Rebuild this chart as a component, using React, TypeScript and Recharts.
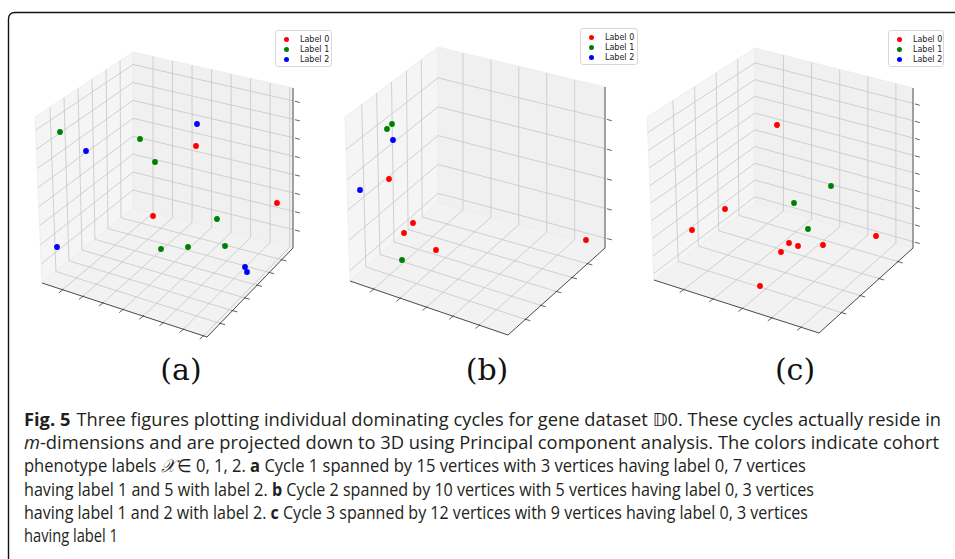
import React from "react";
import { ScatterChart, Scatter, XAxis, YAxis, Legend, Customized } from "recharts";

const labelNames = ["Label 0", "Label 1", "Label 2"];
const labelColors = ["#ff0000", "#008000", "#0000ff"];
const panelTitles = ["(a)", "(b)", "(c)"];

// projected positions of the vertices (panel-local units)
const cycleA0 = [{ x: 196, y: 146 }, { x: 277, y: 203 }, { x: 153, y: 216 }];
const cycleA1 = [
  { x: 60, y: 132 }, { x: 140, y: 139 }, { x: 155, y: 162 }, { x: 217, y: 219 },
  { x: 161, y: 249 }, { x: 188, y: 247 }, { x: 225, y: 246 },
];
const cycleA2 = [{ x: 86, y: 151 }, { x: 197, y: 124 }, { x: 57, y: 247 }, { x: 245, y: 267 }, { x: 247, y: 272 }];

const cycleB0 = [{ x: 79, y: 179 }, { x: 103, y: 223 }, { x: 94, y: 233 }, { x: 126, y: 250 }, { x: 276, y: 240 }];
const cycleB1 = [{ x: 82, y: 124 }, { x: 77, y: 129 }, { x: 92, y: 260 }];
const cycleB2 = [{ x: 83, y: 140 }, { x: 50, y: 190 }];

const cycleC0 = [
  { x: 157, y: 125 }, { x: 105, y: 209 }, { x: 72, y: 230 }, { x: 169, y: 243 }, { x: 178, y: 246 },
  { x: 203, y: 245 }, { x: 161, y: 252 }, { x: 256, y: 236 }, { x: 140, y: 286 },
];
const cycleC1 = [{ x: 211, y: 186 }, { x: 174, y: 203 }, { x: 188, y: 229 }];
const cycleC2: { x: number; y: number }[] = [];

const PW = 335;
const PH = 345;

type Pt = [number, number];
type Box = { BT: Pt; BB: Pt; LT: Pt; LB: Pt; RT: Pt; RB: Pt; F: Pt; u: number[]; v: number[]; w: number[] };

// 3d box corners (back, left, right, front) and grid fractions for each panel
const boxA: Box = {
  BT: [133, 52], BB: [133, 208], LT: [35, 117], LB: [42, 283], RT: [293, 88], RB: [293, 248], F: [207, 337],
  u: [0.125, 0.247, 0.369, 0.491, 0.613, 0.735, 0.857, 0.979],
  v: [0.153, 0.296, 0.439, 0.582, 0.725, 0.868],
  w: [0.115, 0.23, 0.345, 0.46, 0.575, 0.69, 0.805, 0.92],
};
const boxB: Box = {
  BT: [128, 47], BB: [128, 203], LT: [35, 117], LB: [40, 281], RT: [295, 87], RB: [295, 248], F: [198, 335],
  u: [0.15, 0.317, 0.484, 0.651, 0.818],
  v: [0.18, 0.34, 0.5, 0.66, 0.82],
  w: [0.062, 0.247, 0.432, 0.617, 0.802],
};
const boxC: Box = {
  BT: [135, 48], BB: [135, 203], LT: [27, 117], LB: [34, 280], RT: [293, 88], RB: [293, 248], F: [199, 333],
  u: [0.18, 0.358, 0.536, 0.714, 0.892],
  v: [0.24, 0.44, 0.64, 0.84],
  w: [0.04, 0.148, 0.256, 0.364, 0.472, 0.58, 0.688, 0.796, 0.904],
};

const lerp = (a: Pt, b: Pt, t: number): Pt => [a[0] + (b[0] - a[0]) * t, a[1] + (b[1] - a[1]) * t];
const bil = (p00: Pt, p10: Pt, p01: Pt, p11: Pt, s: number, t: number): Pt =>
  lerp(lerp(p00, p10, s), lerp(p01, p11, s), t);
const unit = (a: Pt, b: Pt): Pt => {
  const dx = b[0] - a[0];
  const dy = b[1] - a[1];
  const l = Math.hypot(dx, dy);
  return [dx / l, dy / l];
};

function BoxLayer({ box }: { box: Box }) {
  const { BT, BB, LT, LB, RT, RB, F } = box;
  const floor = (s: number, t: number) => bil(LB, F, BB, RB, s, t);
  const right = (s: number, t: number) => bil(BB, RB, BT, RT, s, t);
  const left = (s: number, t: number) => bil(LB, BB, LT, BT, s, t);
  const poly = (pts: Pt[]) => pts.map((p) => p.join(",")).join(" ");
  const grid: [Pt, Pt][] = [];
  box.u.forEach((s) => {
    grid.push([floor(s, 0), floor(s, 1)]);
    grid.push([right(s, 0), right(s, 1)]);
  });
  box.v.forEach((t) => {
    grid.push([floor(0, t), floor(1, t)]);
    grid.push([left(t, 0), left(t, 1)]);
  });
  box.w.forEach((t) => {
    grid.push([right(0, t), right(1, t)]);
    grid.push([left(0, t), left(1, t)]);
  });
  const dOut = unit(BB, LB);
  const dRight = unit(BB, RB);
  const ticks: [Pt, Pt][] = [];
  box.u.forEach((s) => {
    const p = floor(s, 0);
    ticks.push([[p[0] - dOut[0], p[1] - dOut[1]], [p[0] + dOut[0] * 5, p[1] + dOut[1] * 5]]);
  });
  box.v.forEach((t) => {
    const p = floor(1, t);
    ticks.push([[p[0] - dRight[0], p[1] - dRight[1]], [p[0] + dRight[0] * 5, p[1] + dRight[1] * 5]]);
  });
  box.w.forEach((t) => {
    const p = right(1, t);
    ticks.push([[p[0] + dRight[0] * 2, p[1] + dRight[1] * 2], [p[0] + dRight[0] * 7, p[1] + dRight[1] * 7]]);
  });
  return (
    <g>
      <polygon points={poly([LB, BB, BT, LT])} fill="#f5f5f5" stroke="#ececec" strokeWidth={0.8} />
      <polygon points={poly([BB, RB, RT, BT])} fill="#f0f0f0" stroke="#ececec" strokeWidth={0.8} />
      <polygon points={poly([LB, F, RB, BB])} fill="#f2f2f2" stroke="#ececec" strokeWidth={0.8} />
      {grid.map(([a, b], i) => (
        <line key={`g${i}`} x1={a[0]} y1={a[1]} x2={b[0]} y2={b[1]} stroke="#c6c6c6" strokeWidth={0.8} />
      ))}
      <polyline points={poly([LB, F, RB, RT])} fill="none" stroke="#3a3a3a" strokeWidth={0.9} />
      {ticks.map(([a, b], i) => (
        <line key={`t${i}`} x1={a[0]} y1={a[1]} x2={b[0]} y2={b[1]} stroke="#3a3a3a" strokeWidth={0.8} />
      ))}
    </g>
  );
}

const Dot = (props: any) => <circle cx={props.cx} cy={props.cy} r={2.9} fill={props.fill} />;

function LegendBox() {
  return (
    <div
      style={{
        border: "1px solid #d8d8d8",
        borderRadius: 3,
        background: "rgba(255,255,255,0.85)",
        padding: "4px 0 2px 8px",
        fontFamily: "'DejaVu Sans', sans-serif",
        fontSize: 8,
        color: "#222",
        whiteSpace: "nowrap",
        boxSizing: "border-box",
      }}
    >
      {labelNames.map((n, i) => (
        <div key={n} style={{ display: "flex", alignItems: "center", height: 9.7 }}>
          <span
            style={{ width: 5, height: 5, borderRadius: "50%", background: labelColors[i], marginRight: 11, flex: "none" }}
          />
          <span>{n}</span>
        </div>
      ))}
    </div>
  );
}

type PanelProps = {
  left: number;
  series: { x: number; y: number }[][];
  box: Box;
  legend: { x: number; y: number; w: number };
};

function Panel({ left, series, box, legend }: PanelProps) {
  return (
    <div style={{ position: "absolute", left, top: 0 }}>
      <ScatterChart width={PW} height={PH} margin={{ top: 0, right: 0, bottom: 0, left: 0 }}>
        <XAxis type="number" dataKey="x" domain={[0, PW]} allowDataOverflow hide />
        <YAxis type="number" dataKey="y" domain={[0, PH]} allowDataOverflow reversed hide />
        <Customized component={<BoxLayer box={box} />} />
        {series.map((d, i) => (
          <Scatter
            key={labelNames[i]}
            name={labelNames[i]}
            data={d}
            fill={labelColors[i]}
            shape={Dot}
            isAnimationActive={false}
          />
        ))}
        <Legend
          layout="vertical"
          align="center"
          verticalAlign="middle"
          wrapperStyle={{ left: legend.x, top: legend.y, width: legend.w }}
          content={() => <LegendBox />}
        />
      </ScatterChart>
    </div>
  );
}

const capFont = "'Open Sans', 'Noto Sans', 'DejaVu Sans', sans-serif";

export default function App() {
  return (
    <div style={{ position: "absolute", left: 0, top: 0, width: 955, height: 559, background: "#fff", overflow: "hidden" }}>
      <svg width={955} height={559} style={{ position: "absolute", left: 0, top: 0 }}>
        <path d="M 8.5 559 L 8.5 19 Q 8.5 12.5 15 12.5 L 955 12.5" fill="none" stroke="#111" strokeWidth={1.4} />
        {panelTitles.map((t, i) => (
          <text
            key={t}
            x={[181, 487, 795][i]}
            y={380}
            textAnchor="middle"
            fontFamily="'DejaVu Serif', serif"
            fontSize={30}
            fill="#111"
          >
            {t}
          </text>
        ))}
        <g fontFamily={capFont} fontSize={18} fill="#231f20">
          <text x={24} y={426} textLength={917} lengthAdjust="spacingAndGlyphs">
            <tspan fontWeight="bold">Fig. 5</tspan>
            <tspan dx={6}>Three figures plotting individual dominating cycles for gene dataset 𝔻0. These cycles actually reside in</tspan>
          </text>
          <text x={24} y={449} textLength={915} lengthAdjust="spacingAndGlyphs">
            <tspan fontStyle="italic">m</tspan>
            <tspan>-dimensions and are projected down to 3D using Principal component analysis. The colors indicate cohort</tspan>
          </text>
          <text x={24} y={472} textLength={782} lengthAdjust="spacingAndGlyphs">
            <tspan>phenotype labels </tspan>
            <tspan fontStyle="italic">𝒳</tspan>
            <tspan dx={3}>∈ 0, 1, 2. </tspan>
            <tspan fontWeight="bold">a</tspan>
            <tspan> Cycle 1 spanned by 15 vertices with 3 vertices having label 0, 7 vertices</tspan>
          </text>
          <text x={24} y={495.5} textLength={790} lengthAdjust="spacingAndGlyphs">
            <tspan>having label 1 and 5 with label 2. </tspan>
            <tspan fontWeight="bold">b</tspan>
            <tspan> Cycle 2 spanned by 10 vertices with 5 vertices having label 0, 3 vertices</tspan>
          </text>
          <text x={24} y={519} textLength={784} lengthAdjust="spacingAndGlyphs">
            <tspan>having label 1 and 2 with label 2. </tspan>
            <tspan fontWeight="bold">c</tspan>
            <tspan> Cycle 3 spanned by 12 vertices with 9 vertices having label 0, 3 vertices</tspan>
          </text>
          <text x={24} y={542} textLength={94} lengthAdjust="spacingAndGlyphs">
            having label 1
          </text>
        </g>
      </svg>
      <Panel left={0} series={[cycleA0, cycleA1, cycleA2]} box={boxA} legend={{ x: 275, y: 30, w: 57 }} />
      <Panel left={310} series={[cycleB0, cycleB1, cycleB2]} box={boxB} legend={{ x: 270, y: 28, w: 58 }} />
      <Panel left={620} series={[cycleC0, cycleC1, cycleC2]} box={boxC} legend={{ x: 268, y: 30, w: 56 }} />
    </div>
  );
}
